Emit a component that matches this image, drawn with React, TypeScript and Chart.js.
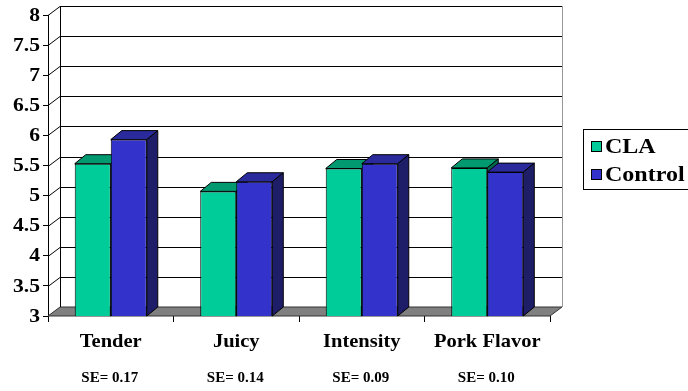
import React, { useEffect, useRef } from "react";
import { Chart, registerables } from "chart.js";

Chart.register(...registerables);

const categories = ["Tender", "Juicy", "Intensity", "Pork Flavor"];
const claValues = [5.53, 5.07, 5.45, 5.46];
const controlValues = [5.93, 5.23, 5.53, 5.39];
const seLabels = ["SE= 0.17", "SE= 0.14", "SE= 0.09", "SE= 0.10"];
const seriesNames = ["CLA", "Control"];
const yMin = 3;
const yMax = 8;
const yStep = 0.5;

const FONT = '"Liberation Serif", "Times New Roman", serif';
const frontColors = ["#00CC99", "#3333CC"];
const topColors = ["#009970", "#2A2A9C"];
const sideColors = ["#006B4F", "#1D1D68"];

const WALL_DX = 12;
const WALL_DY = 9;
const BAR_DX = 11;
const BAR_DY = 9;

function stretchedText(ctx: any, text: string, x: number, y: number, sx: number, align: string) {
  ctx.save();
  ctx.translate(x, y);
  ctx.scale(sx, 1);
  ctx.textAlign = align;
  ctx.fillText(text, 0, 0);
  ctx.restore();
}

const threeD = {
  id: "threeD",
  beforeDatasetsDraw(chart: any) {
    const { ctx, chartArea } = chart;
    const { left, right, top, bottom } = chartArea;
    const y = chart.scales.y;
    ctx.save();
    // floor
    ctx.beginPath();
    ctx.moveTo(left, bottom);
    ctx.lineTo(right, bottom);
    ctx.lineTo(right + WALL_DX, bottom - WALL_DY);
    ctx.lineTo(left + WALL_DX, bottom - WALL_DY);
    ctx.closePath();
    ctx.fillStyle = "#808080";
    ctx.fill();
    ctx.strokeStyle = "#333";
    ctx.lineWidth = 1;
    ctx.stroke();
    // gridlines on side & back wall
    ctx.strokeStyle = "#000";
    for (let v = yMin + yStep; v <= yMax + 1e-9; v += yStep) {
      const yf = Math.round(y.getPixelForValue(v)) + 0.5;
      ctx.beginPath();
      ctx.moveTo(left, yf);
      ctx.lineTo(left + WALL_DX, yf - WALL_DY);
      ctx.lineTo(right + WALL_DX, yf - WALL_DY);
      ctx.stroke();
    }
    // back wall verticals
    ctx.beginPath();
    ctx.moveTo(left + WALL_DX + 0.5, top - WALL_DY);
    ctx.lineTo(left + WALL_DX + 0.5, bottom - WALL_DY);
    ctx.stroke();
    ctx.strokeStyle = "#999";
    ctx.beginPath();
    ctx.moveTo(right + WALL_DX + 0.5, top - WALL_DY);
    ctx.lineTo(right + WALL_DX + 0.5, bottom - WALL_DY);
    ctx.stroke();

    // bar top & side faces
    ctx.strokeStyle = "#000";
    const yb = y.getPixelForValue(yMin);
    const n = chart.data.labels.length;
    for (let i = 0; i < n; i++) {
      for (let d = 0; d < chart.data.datasets.length; d++) {
        const el = chart.getDatasetMeta(d).data[i];
        if (!el) continue;
        const p = el.getProps(["x", "y", "width"], true);
        const xl = p.x - p.width / 2;
        const xr = p.x + p.width / 2;
        const yt = p.y;
        ctx.beginPath();
        ctx.moveTo(xl, yt);
        ctx.lineTo(xr, yt);
        ctx.lineTo(xr + BAR_DX, yt - BAR_DY);
        ctx.lineTo(xl + BAR_DX, yt - BAR_DY);
        ctx.closePath();
        ctx.fillStyle = topColors[d];
        ctx.fill();
        ctx.stroke();
        ctx.beginPath();
        ctx.moveTo(xr, yt);
        ctx.lineTo(xr + BAR_DX, yt - BAR_DY);
        ctx.lineTo(xr + BAR_DX, yb - BAR_DY);
        ctx.lineTo(xr, yb);
        ctx.closePath();
        ctx.fillStyle = sideColors[d];
        ctx.fill();
        ctx.stroke();
      }
    }
    ctx.restore();
  },
  afterDraw(chart: any) {
    const { ctx } = chart;
    const x = chart.scales.x;
    const y = chart.scales.y;
    ctx.save();
    ctx.fillStyle = "#000";
    ctx.textBaseline = "alphabetic";

    // y tick labels
    ctx.font = `bold 18px ${FONT}`;
    ctx.textBaseline = "middle";
    y.ticks.forEach((t: any) => {
      stretchedText(ctx, String(Number(t.value)), 40, y.getPixelForValue(t.value) + 1, 1.2, "right");
    });

    // category labels
    ctx.textBaseline = "alphabetic";
    ctx.font = `bold 19px ${FONT}`;
    chart.data.labels.forEach((lab: string, i: number) => {
      stretchedText(ctx, lab, x.getPixelForValue(i), 347, 1.08, "center");
    });

    // SE labels
    ctx.font = `bold 15px ${FONT}`;
    seLabels.forEach((s, i) => {
      stretchedText(ctx, s, x.getPixelForValue(i) - 1, 382, 1.0, "center");
    });

    // legend
    const bx = 583.5;
    const by = 129.5;
    ctx.strokeStyle = "#000";
    ctx.lineWidth = 1;
    ctx.strokeRect(bx, by, 120, 60);
    ctx.font = `bold 20px ${FONT}`;
    chart.data.datasets.forEach((ds: any, i: number) => {
      const sy = 141 + i * 28;
      ctx.fillStyle = ds.backgroundColor;
      ctx.fillRect(591, sy, 11, 11);
      ctx.strokeRect(591.5, sy + 0.5, 10, 10);
      ctx.fillStyle = "#000";
      stretchedText(ctx, ds.label, 605, sy + 12, 1.2, "left");
    });
    ctx.restore();
  },
};

export default function App() {
  const ref = useRef<HTMLCanvasElement>(null);
  useEffect(() => {
    if (!ref.current) return;
    const chart = new Chart(ref.current, {
      type: "bar",
      data: {
        labels: categories,
        datasets: [
          {
            label: seriesNames[0],
            data: claValues,
            backgroundColor: frontColors[0],
            borderColor: "#000",
            borderWidth: 1,
            borderSkipped: false,
            categoryPercentage: 0.574,
            barPercentage: 1,
          },
          {
            label: seriesNames[1],
            data: controlValues,
            backgroundColor: frontColors[1],
            borderColor: "#000",
            borderWidth: 1,
            borderSkipped: false,
            categoryPercentage: 0.574,
            barPercentage: 1,
          },
        ],
      },
      options: {
        responsive: false,
        animation: false,
        devicePixelRatio: 1,
        layout: { padding: { top: 15, right: 138, left: 0, bottom: 0 } },
        plugins: { legend: { display: false }, tooltip: { enabled: false } },
        scales: {
          x: {
            grid: {
              offset: true,
              drawOnChartArea: false,
              drawTicks: true,
              tickLength: 6,
              color: "#000",
            },
            border: { display: false },
            ticks: { display: false },
            afterFit: (s: any) => {
              s.height = 75;
            },
          },
          y: {
            min: yMin,
            max: yMax,
            ticks: { stepSize: yStep, display: false },
            grid: {
              drawOnChartArea: false,
              drawTicks: true,
              tickLength: 5,
              color: "#000",
            },
            border: { display: true, color: "#000" },
            afterFit: (s: any) => {
              s.width = 48;
            },
          },
        },
      },
      plugins: [threeD],
    });
    return () => chart.destroy();
  }, []);
  return (
    <div style={{ position: "fixed", left: 0, top: 0, width: 688, height: 391, background: "#fff" }}>
      <canvas ref={ref} width={688} height={391} />
    </div>
  );
}
